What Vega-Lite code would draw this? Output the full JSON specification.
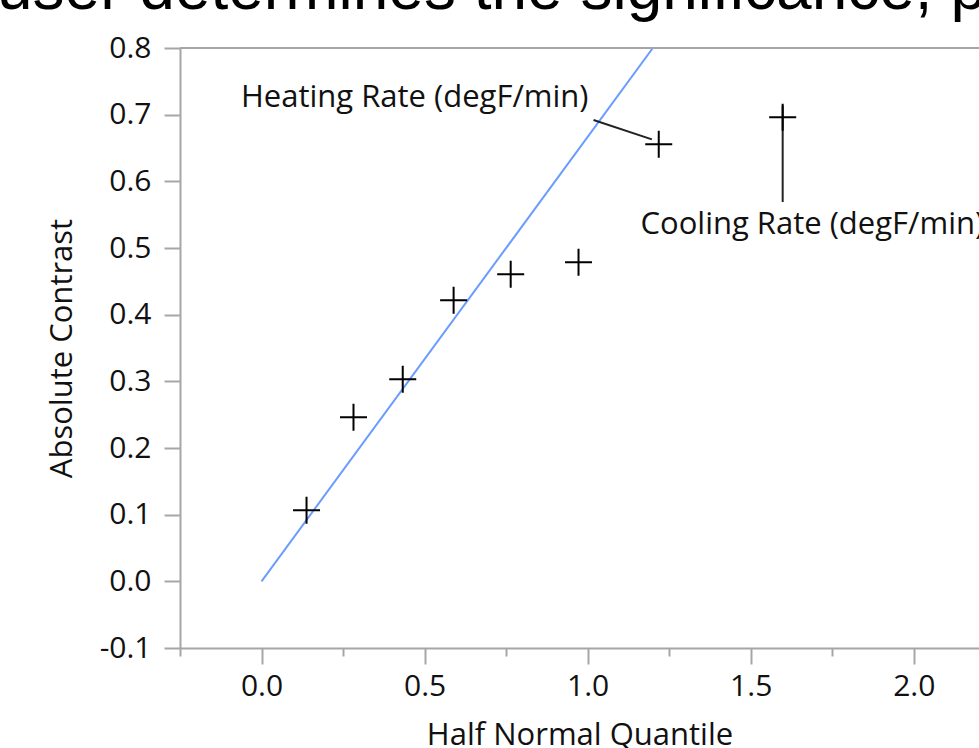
{
  "$schema": "https://vega.github.io/schema/vega-lite/v6.json",
  "width": 799,
  "height": 600,
  "autosize": {"type": "none"},
  "padding": {"left": 180, "top": 48, "right": 0, "bottom": 100},
  "background": "white",
  "title": {
    "text": "user determines the significance, p-value",
    "anchor": "start",
    "frame": "group",
    "orient": "top",
    "baseline": "alphabetic",
    "offset": 0,
    "dy": 40,
    "dx": -183,
    "font": "Liberation Sans",
    "fontSize": 64,
    "fontWeight": "normal",
    "color": "#000000"
  },
  "config": {
    "view": {"stroke": null},
    "axis": {
      "domainColor": "#a6a6a6",
      "domainWidth": 2,
      "tickColor": "#a6a6a6",
      "tickWidth": 2,
      "grid": false,
      "labelFont": "Open Sans",
      "labelFontSize": 30,
      "labelColor": "#111111",
      "titleFont": "Open Sans",
      "titleFontSize": 31,
      "titleFontWeight": "normal",
      "titleColor": "#111111"
    }
  },
  "datasets": {
    "pts": [
      {"q": 0.138, "c": 0.1065},
      {"q": 0.282, "c": 0.246},
      {"q": 0.433, "c": 0.303},
      {"q": 0.589, "c": 0.4215},
      {"q": 0.764, "c": 0.4605},
      {"q": 0.972, "c": 0.4785},
      {"q": 1.218, "c": 0.6555},
      {"q": 1.598, "c": 0.696}
    ],
    "fit": [
      {"q": 0.0, "c": 0.0},
      {"q": 1.2, "c": 0.8}
    ],
    "leaders": [
      {"q": 1.018, "c": 0.692, "q2": 1.197, "c2": 0.663},
      {"q": 1.598, "c": 0.714, "q2": 1.598, "c2": 0.569}
    ],
    "labels": [
      {"q": 1.0025, "c": 0.725, "text": "Heating Rate (degF/min)", "side": "right"},
      {"q": 1.162, "c": 0.5345, "text": "Cooling Rate (degF/min)", "side": "left"}
    ]
  },
  "layer": [
    {
      "data": {"name": "fit"},
      "mark": {"type": "line", "color": "#6a9cff", "strokeWidth": 2, "clip": true},
      "encoding": {
        "x": {
          "field": "q", "type": "quantitative",
          "scale": {"domain": [-0.25, 2.2], "nice": false, "zero": false},
          "axis": {
            "title": "Half Normal Quantile",
            "values": [-0.25, 0, 0.25, 0.5, 0.75, 1, 1.25, 1.5, 1.75, 2],
            "format": ".1f",
            "labelExpr": "abs(datum.value % 0.5) < 0.001 ? datum.label : ''",
            "tickSize": {"condition": {"test": "abs(datum.value % 0.5) < 0.001", "value": 16}, "value": 8},
            "labelPadding": 7,
            "titlePadding": 19
          }
        },
        "y": {
          "field": "c", "type": "quantitative",
          "scale": {"domain": [-0.1, 0.8], "nice": false, "zero": false},
          "axis": {
            "title": "Absolute Contrast",
            "values": [-0.1, 0, 0.1, 0.2, 0.3, 0.4, 0.5, 0.6, 0.7, 0.8],
            "format": ".1f",
            "labelExpr": "replace(datum.label, '\u2212', '-')",
            "tickSize": 16,
            "labelPadding": 13,
            "titlePadding": 21
          }
        }
      }
    },
    {
      "data": {"values": [{}]},
      "mark": {"type": "rule", "color": "#a6a6a6", "strokeWidth": 2},
      "encoding": {"y": {"datum": 0.8, "type": "quantitative"}}
    },
    {
      "data": {"name": "leaders"},
      "mark": {"type": "rule", "color": "#222222", "strokeWidth": 2},
      "encoding": {
        "x": {"field": "q", "type": "quantitative"},
        "y": {"field": "c", "type": "quantitative"},
        "x2": {"field": "q2"},
        "y2": {"field": "c2"}
      }
    },
    {
      "data": {"name": "pts"},
      "mark": {
        "type": "point",
        "shape": "M-1,0H1M0,-1V1",
        "size": 729,
        "filled": false,
        "stroke": "#000000",
        "strokeWidth": 2,
        "opacity": 1
      },
      "encoding": {
        "x": {"field": "q", "type": "quantitative"},
        "y": {"field": "c", "type": "quantitative"}
      }
    },
    {
      "data": {"name": "labels"},
      "transform": [{"filter": "datum.side === 'right'"}],
      "mark": {"type": "text", "align": "right", "baseline": "middle", "font": "Open Sans", "fontSize": 31, "color": "#111111"},
      "encoding": {
        "x": {"field": "q", "type": "quantitative"},
        "y": {"field": "c", "type": "quantitative"},
        "text": {"field": "text"}
      }
    },
    {
      "data": {"name": "labels"},
      "transform": [{"filter": "datum.side === 'left'"}],
      "mark": {"type": "text", "align": "left", "baseline": "middle", "font": "Open Sans", "fontSize": 31, "color": "#111111"},
      "encoding": {
        "x": {"field": "q", "type": "quantitative"},
        "y": {"field": "c", "type": "quantitative"},
        "text": {"field": "text"}
      }
    }
  ]
}
